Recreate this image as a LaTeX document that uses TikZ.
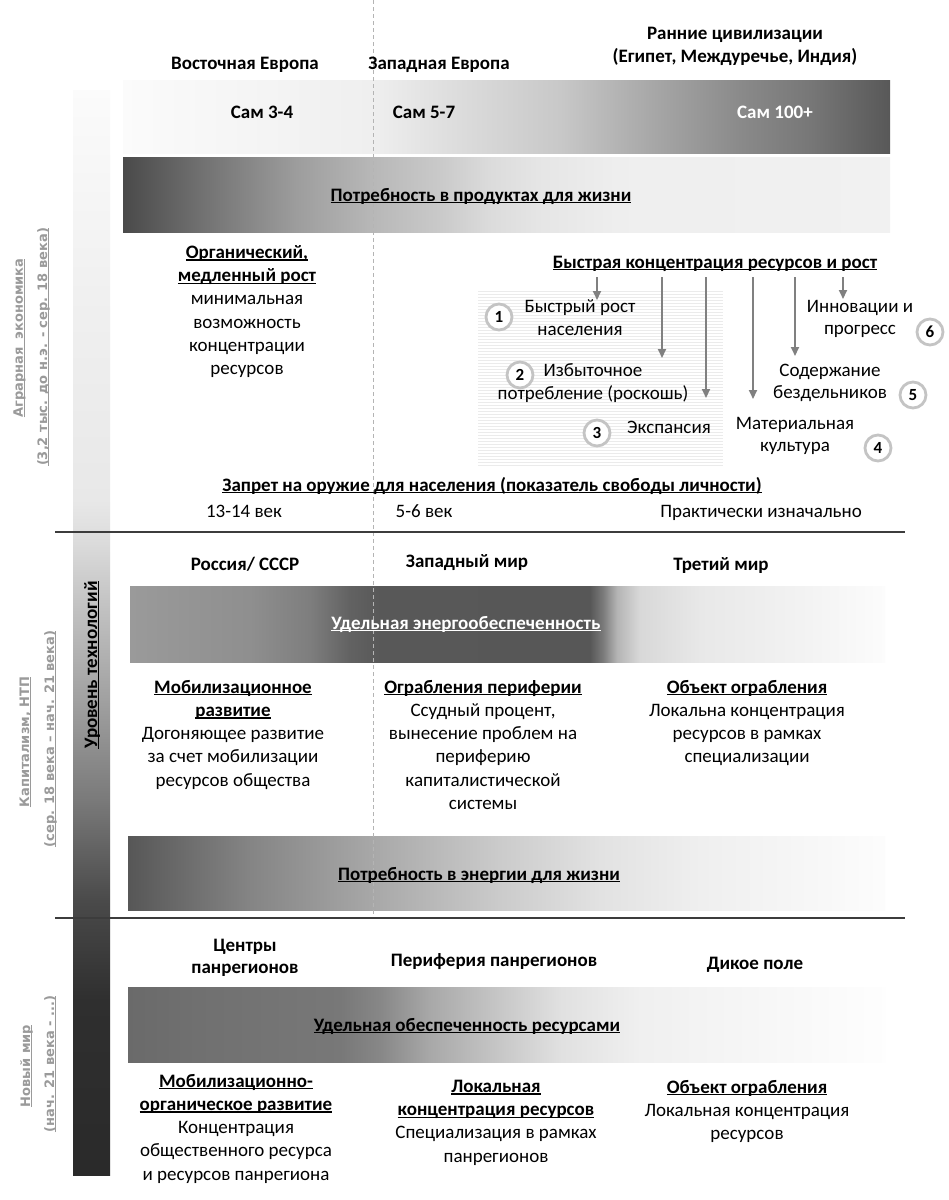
\documentclass[tikz,border=0pt]{standalone}
\usepackage{fontspec}
\setmainfont{Carlito}
\newfontfamily\lblfont{DejaVu Sans}
\usetikzlibrary{arrows.meta}
\definecolor{lblgray}{HTML}{9A9A9A}
\definecolor{arrgray}{HTML}{808080}
\definecolor{circgray}{HTML}{C4C4C4}
\definecolor{sepgray}{HTML}{3C3C3C}
\definecolor{dashgray}{HTML}{B4B4B4}
\definecolor{hatchgray}{HTML}{EBEBEB}
\newsavebox\ulbox
\newcommand\myul[1]{\sbox\ulbox{#1}\rlap{\rule[-2.4pt]{\wd\ulbox}{1.3pt}}\usebox\ulbox}
\newcommand\bodyf{\fontsize{19}{23.3}\selectfont}
\newcommand\lblf{\lblfont\bfseries\fontsize{13}{16}\selectfont}
% bar shadings (path box maps to 25bp..75bp)
\pgfdeclarehorizontalshading{barA}{100bp}{rgb(0bp)=(.984,.984,.984); rgb(25bp)=(.984,.984,.984); rgb(41.3bp)=(.937,.937,.937); rgb(45.65bp)=(.878,.878,.878); rgb(53.5bp)=(.784,.784,.784); rgb(59.35bp)=(.659,.659,.659); rgb(65.2bp)=(.541,.541,.541); rgb(69.8bp)=(.467,.467,.467); rgb(75bp)=(.345,.345,.345); rgb(100bp)=(.345,.345,.345)}
\pgfdeclarehorizontalshading{barB}{100bp}{rgb(0bp)=(.29,.29,.29); rgb(25bp)=(.29,.29,.29); rgb(30bp)=(.44,.44,.44); rgb(36.5bp)=(.62,.62,.62); rgb(41.3bp)=(.72,.72,.72); rgb(45.65bp)=(.79,.79,.79); rgb(48.9bp)=(.86,.86,.86); rgb(52.2bp)=(.9,.9,.9); rgb(57.4bp)=(.935,.935,.935); rgb(75bp)=(.945,.945,.945); rgb(100bp)=(.945,.945,.945)}
\pgfdeclarehorizontalshading{barC}{100bp}{rgb(0bp)=(.604,.604,.604); rgb(25bp)=(.604,.604,.604); rgb(32.95bp)=(.56,.56,.56); rgb(36.9bp)=(.494,.494,.494); rgb(39.55bp)=(.384,.384,.384); rgb(41.55bp)=(.345,.345,.345); rgb(55.45bp)=(.341,.341,.341); rgb(56.3bp)=(.478,.478,.478); rgb(57.25bp)=(.706,.706,.706); rgb(58.75bp)=(.847,.847,.847); rgb(62.75bp)=(.91,.91,.91); rgb(69.35bp)=(.949,.949,.949); rgb(75bp)=(.988,.988,.988); rgb(100bp)=(.988,.988,.988)}
\pgfdeclarehorizontalshading{barD}{100bp}{rgb(0bp)=(.34,.34,.34); rgb(25bp)=(.34,.34,.34); rgb(33.05bp)=(.52,.52,.52); rgb(41.3bp)=(.66,.66,.66); rgb(49.55bp)=(.796,.796,.796); rgb(56.2bp)=(.886,.886,.886); rgb(62.8bp)=(.937,.937,.937); rgb(75bp)=(.99,.99,.99); rgb(100bp)=(.99,.99,.99)}
\pgfdeclarehorizontalshading{barE}{100bp}{rgb(0bp)=(.416,.416,.416); rgb(25bp)=(.416,.416,.416); rgb(29.75bp)=(.44,.44,.44); rgb(39bp)=(.47,.47,.47); rgb(41.65bp)=(.53,.53,.53); rgb(44.95bp)=(.66,.66,.66); rgb(49.55bp)=(.78,.78,.78); rgb(53.55bp)=(.88,.88,.88); rgb(58.8bp)=(.94,.94,.94); rgb(75bp)=(.995,.995,.995); rgb(100bp)=(.995,.995,.995)}
\pgfdeclareverticalshading{lbar}{100bp}{rgb(0bp)=(.165,.165,.165); rgb(25bp)=(.165,.165,.165); rgb(33.05bp)=(.184,.184,.184); rgb(37.65bp)=(.29,.29,.29); rgb(42.3bp)=(.478,.478,.478); rgb(46.9bp)=(.63,.63,.63); rgb(51.5bp)=(.77,.77,.77); rgb(54.25bp)=(.863,.863,.863); rgb(56.1bp)=(.91,.91,.91); rgb(65.3bp)=(.94,.94,.94); rgb(75bp)=(.984,.984,.984); rgb(100bp)=(.984,.984,.984)}
\begin{document}
\begin{tikzpicture}[x=1pt,y=-1pt,
  txt/.style={font=\bodyf, inner sep=0pt, anchor=base},
  btxt/.style={font=\bodyf\bfseries, inner sep=0pt, anchor=base},
  blk/.style={font=\bodyf, inner sep=0pt, align=center, anchor=north, execute at begin node=\strut},
  rlbl/.style={font=\lblf, text=lblgray, inner sep=0pt, anchor=base, rotate=90},
  num/.style={circle, draw=circgray, line width=2.8pt, fill=white, minimum size=26pt, inner sep=0pt, font=\fontsize{17}{17}\selectfont\bfseries},
  arr/.style={draw=arrgray, line width=2pt, -{Triangle[length=9pt,width=8pt]}},
  sep/.style={draw=sepgray, line width=2pt}
]
\fill[white] (0,0) rectangle (949,1200);
\useasboundingbox (0,0) rectangle (949,1200);

% gradient bars
\path[shading=barA] (123,80) rectangle (890,153);
\path[shading=barB] (123,157) rectangle (890,232);
\path[shading=barC] (130,586) rectangle (885,662);
\path[shading=barD] (128,836) rectangle (885,910);
\path[shading=barE] (128,987) rectangle (885,1062);
% left technology bar
\path[shading=lbar] (73,90) rectangle (110,1175);

% hatched area
\foreach \yy in {291,294,...,467} \draw[hatchgray, line width=1pt] (478,\yy) -- (723,\yy);

% dashed divider
\coordinate (dtop) at (373,0);
\coordinate (dbot) at (373,917);
\draw[dashgray, line width=0.8pt, dash pattern=on 4pt off 3pt] (dtop) -- (dbot);

% separators
\coordinate (s1l) at (55,532); \coordinate (s1r) at (905,532);
\coordinate (s2l) at (55,918); \coordinate (s2r) at (905,918);
\draw[sep] (s1l) -- (s1r);
\draw[sep] (s2l) -- (s2r);

% left rotated labels
\node[rlbl] (agr1) at (23,338) {\myul{Аграрная\hspace{0.6em}экономика}};
\node[rlbl] (agr2) at (47,347) {\myul{(3,2 тыс. до н.э. - сер. 18 века)}};
\node[rlbl] (cap1) at (29,742) {\myul{Капитализм, НТП}};
\node[rlbl] (cap2) at (54,739) {\myul{(сер. 18 века – нач. 21 века)}};
\node[rlbl] (new1) at (30,1066) {\myul{Новый мир}};
\node[rlbl] (new2) at (54,1064) {\myul{(нач. 21 века - ...)}};
\node[btxt, rotate=90] (tech) at (97,665) {\myul{Уровень технологий}};

% ===== Top section =====
\node[btxt] (eeu) at (245,69) {Восточная Европа};
\node[btxt] (weu) at (439,69.5) {Западная Европа};
\node[blk, font=\bodyf\bfseries] (anc) at (735,26.7) {Ранние цивилизации\\(Египет, Междуречье, Индия)};
\node[btxt] (sam1) at (262,118) {Сам 3-4};
\node[btxt] (sam2) at (424,118) {Сам 5-7};
\node[btxt, text=white] (sam3) at (775,118) {Сам 100+};
\node[btxt] (need1) at (481,201) {\myul{Потребность в продуктах для жизни}};

\node[blk] (org) at (247,245.2) {\textbf{\myul{Органический,}}\\\textbf{\myul{медленный рост}}\\минимальная\\возможность\\концентрации\\ресурсов};
\node[btxt] (fast) at (715,268) {\myul{Быстрая концентрация ресурсов и рост}};

\node[blk, font=\fontsize{19}{22.5}\selectfont] (t1) at (580,299.7) {Быстрый рост\\населения};
\node[blk, font=\fontsize{19}{22.5}\selectfont] (t2) at (593,363.7) {Избыточное\\потребление (роскошь)};
\node[txt] (t3) at (669,433) {Экспансия};
\node[blk, font=\fontsize{19}{22.5}\selectfont] (t4) at (795,416.7) {Материальная\\культура};
\node[blk, font=\fontsize{19}{22.5}\selectfont] (t5) at (830,363.7) {Содержание\\бездельников};
\node[blk, font=\fontsize{19}{22.5}\selectfont] (t6) at (860,299.7) {Инновации и\\прогресс};

\node[num] (c1) at (499,317) {1};
\node[num] (c2) at (520,375) {2};
\node[num] (c3) at (597,433) {3};
\node[num] (c4) at (878,448) {4};
\node[num] (c5) at (913,395) {5};
\node[num] (c6) at (930,332) {6};

\foreach \i/\xx/\ye in {1/597/300, 2/662/358, 3/706/398, 4/753/399, 5/795/356, 6/843/299} {
  \coordinate (a\i s) at (\xx,277);
  \coordinate (a\i e) at (\xx,\ye);
  \draw[arr] (a\i s) -- (a\i e);
}

\node[btxt] (ban) at (492,491) {\myul{Запрет на оружие для населения (показатель свободы личности)}};
\node[txt] (v1) at (244,517) {13-14 век};
\node[txt] (v2) at (424,517) {5-6 век};
\node[txt] (v3) at (761,517) {Практически изначально};

% ===== Middle section =====
\node[btxt] (rus) at (245,570) {Россия/ СССР};
\node[btxt] (west) at (467,567) {Западный мир};
\node[btxt] (third) at (721,570) {Третий мир};
\node[btxt, text=white] (energy) at (466,629) {\myul{Удельная энергообеспеченность}};

\node[blk] (mob) at (233,679.7) {\textbf{\myul{Мобилизационное}}\\\textbf{\myul{развитие}}\\Догоняющее развитие\\за счет мобилизации\\ресурсов общества};
\node[blk] (rob) at (483,679.7) {\textbf{\myul{Ограбления периферии}}\\Ссудный процент,\\вынесение проблем на\\периферию\\капиталистической\\системы};
\node[blk] (obj1) at (747,679.7) {\textbf{\myul{Объект ограбления}}\\Локальна концентрация\\ресурсов в рамках\\специализации};
\node[btxt] (need2) at (479,880) {\myul{Потребность в энергии для жизни}};

% ===== Bottom section =====
\node[blk, font=\fontsize{19}{22.5}\selectfont\bfseries] (cent) at (245,938.7) {Центры\\панрегионов};
\node[btxt] (peri) at (494,966) {Периферия панрегионов};
\node[btxt] (wild) at (755,969) {Дикое поле};
\node[btxt] (res) at (467,1031) {\myul{Удельная обеспеченность ресурсами}};

\node[blk] (mobo) at (236,1073.7) {\textbf{\myul{Мобилизационно-}}\\\textbf{\myul{органическое развитие}}\\Концентрация\\общественного ресурса\\и ресурсов панрегиона};
\node[blk] (loc) at (496,1079.7) {\textbf{\myul{Локальная}}\\\textbf{\myul{концентрация ресурсов}}\\Специализация в рамках\\панрегионов};
\node[blk] (obj2) at (747,1079.7) {\textbf{\myul{Объект ограбления}}\\Локальная концентрация\\ресурсов};
\end{tikzpicture}
\end{document}
